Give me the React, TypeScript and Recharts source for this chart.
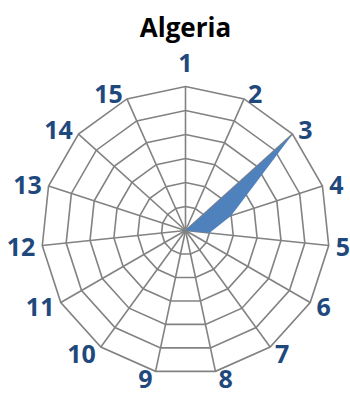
import { RadarChart, Radar, PolarGrid, PolarAngleAxis, PolarRadiusAxis } from 'recharts';

const categories = ['1', '2', '3', '4', '5', '6', '7', '8', '9', '10', '11', '12', '13', '14', '15'];
const values = [0, 0, 6, 2, 1, 0, 0, 0, 0, 0, 0, 0, 0, 0, 0];
const radiusTicks = [0, 6];

const data = categories.map((name, i) => ({ name, value: values[i] }));

const CX = 185.5;
const CY = 230.5;
const R = 144;
const RADIAN = Math.PI / 180;

// labels sit just outside each outer vertex, anchored by side
const AngleTick = (props: any) => {
  const angle = props.payload.coordinate;
  const ux = Math.cos(-angle * RADIAN);
  const uy = Math.sin(-angle * RADIAN);
  const vx = CX + R * ux;
  const vy = CY + R * uy;
  let x = vx;
  let y = vy - 25;
  let anchor = 'middle';
  if (Math.abs(ux) > 0.1) {
    anchor = ux > 0 ? 'start' : 'end';
    x = vx + Math.sign(ux) * (2 + 5 * Math.abs(ux));
    y = vy + 7 * uy;
  }
  return (
    <text
      x={x}
      y={y}
      textAnchor={anchor}
      dominantBaseline="central"
      fill="#1F497D"
      fontSize={25}
      fontWeight="bold"
      fontFamily="'Open Sans', sans-serif"
    >
      {props.payload.value}
    </text>
  );
};

export default function App() {
  return (
    <div style={{ position: 'absolute', left: 0, top: 0, width: 350, height: 398, background: '#fff' }}>
      <div
        style={{
          position: 'absolute',
          left: 0,
          top: 14,
          width: 371,
          textAlign: 'center',
          fontFamily: "'Open Sans', sans-serif",
          fontWeight: 'bold',
          fontSize: 26,
          lineHeight: '26px',
          color: '#000',
        }}
      >
        Algeria
      </div>
      <RadarChart
        width={350}
        height={398}
        data={data}
        cx={CX}
        cy={CY}
        outerRadius={R}
        margin={{ top: 0, right: 0, bottom: 0, left: 0 }}
      >
        <PolarRadiusAxis
          domain={radiusTicks}
          tickCount={7}
          tick={false}
          axisLine={false}
        />
        <PolarAngleAxis dataKey="name" tick={AngleTick} tickLine={false} axisLine={false} />
        <Radar
          dataKey="value"
          fill="#4F81BD"
          fillOpacity={1}
          stroke="none"
          isAnimationActive={false}
        />
        <PolarGrid gridType="polygon" stroke="#828282" strokeWidth={1.6} strokeOpacity={1} />
      </RadarChart>
    </div>
  );
}
